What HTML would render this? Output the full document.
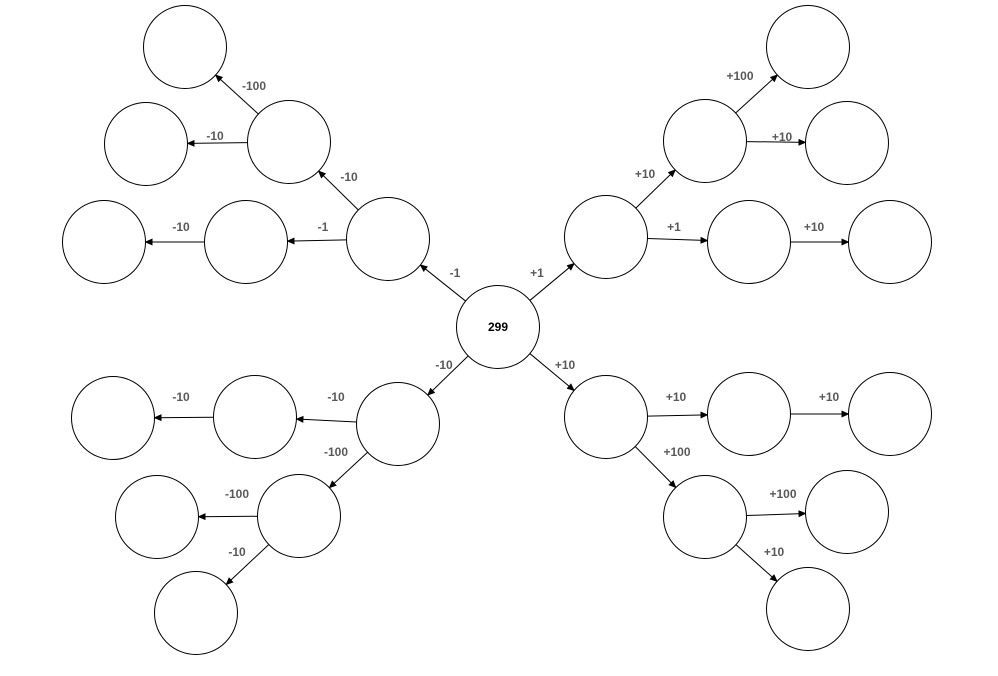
<!DOCTYPE html>
<html><head><meta charset="utf-8"><style>
html,body{margin:0;padding:0;background:#fff;}
svg{display:block}
text{font-family:"Liberation Sans",sans-serif;font-weight:bold;font-size:12px}
</style></head><body>
<svg id="s" width="998" height="676" viewBox="0 0 998 676" xmlns="http://www.w3.org/2000/svg">
<defs><marker id="a" markerWidth="8" markerHeight="8" refX="7" refY="4" orient="auto" markerUnits="userSpaceOnUse"><path d="M0,0.5 L8,4 L0,7.5 z" fill="#000"/></marker></defs>
</svg>
<script>
var R=41.5;
var N={c:[498,327],
ul:[388,239],l1:[246,242],l2:[104,242],u1:[289,142],u1l:[146,144],u1t:[185,47],
ur:[606,237],r1:[749,242],r2:[890,242],v1:[705,141],v1r:[847,143],v1t:[808,47],
ll:[398,424],m1:[255,417],m2:[113,418],d1:[299,516],d1l:[157,517],d1d:[196,613],
lr:[606,417],n1:[749,414],n2:[890,414],e1:[705,517],e1r:[847,512],e1d:[808,609]};
var E=[["c","ul","-1",455,277],["c","ur","+1",537,277],["c","ll","-10",444,369],["c","lr","+10",565,369],
["ul","l1","-1",323,231],["l1","l2","-10",181,231],["ul","u1","-10",349,181],["u1","u1l","-10",215,140],["u1","u1t","-100",254,90],
["ur","r1","+1",674,231],["r1","r2","+10",814,231],["ur","v1","+10",645,178],["v1","v1r","+10",782,141],["v1","v1t","+100",740,80],
["ll","m1","-10",336,401],["m1","m2","-10",181,401],["ll","d1","-100",336,456],["d1","d1l","-100",237,498],["d1","d1d","-10",237,556],
["lr","n1","+10",676,401],["n1","n2","+10",829,401],["lr","e1","+100",677,456],["e1","e1r","+100",783,498],["e1","e1d","+10",774,556]];
var s=document.getElementById("s"),h="";
E.forEach(function(e){var a=N[e[0]],b=N[e[1]],dx=b[0]-a[0],dy=b[1]-a[1],L=Math.hypot(dx,dy),ux=dx/L,uy=dy/L;
h+='<line x1="'+(a[0]+ux*R)+'" y1="'+(a[1]+uy*R)+'" x2="'+(b[0]-ux*R)+'" y2="'+(b[1]-uy*R)+'" stroke="#000" stroke-width="1" marker-end="url(#a)"/>';
h+='<text x="'+e[3]+'" y="'+e[4]+'" text-anchor="middle" fill="#595959">'+e[2]+'</text>';});
for(var k in N){h+='<circle cx="'+N[k][0]+'" cy="'+N[k][1]+'" r="'+R+'" fill="#fff" stroke="#000" stroke-width="1"/>';}
h+='<text x="498" y="331" text-anchor="middle" fill="#000">299</text>';
s.insertAdjacentHTML("beforeend",h);
</script>
</body></html>
